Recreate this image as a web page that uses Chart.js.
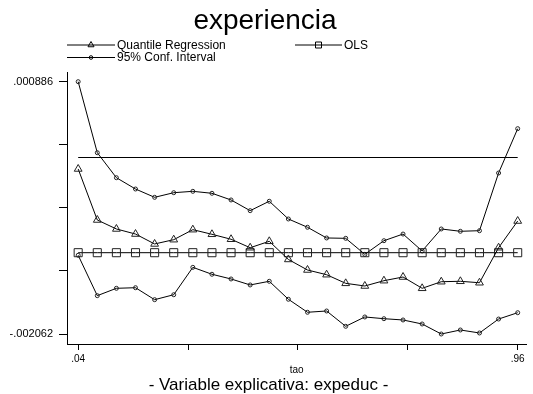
<!DOCTYPE html>
<html>
<head>
<meta charset="utf-8">
<script src="https://cdn.jsdelivr.net/npm/chart.js@4/dist/chart.umd.min.js"></script>
<style>
  html, body { margin: 0; padding: 0; background: #fff; }
  #wrap { width: 533px; height: 394px; position: relative; }
</style>
</head>
<body>
<div id="wrap"><canvas id="c" width="533" height="394"></canvas></div>
<script>
var TAO = [0.04, 0.08, 0.12, 0.16, 0.20, 0.24, 0.28, 0.32, 0.36, 0.40, 0.44, 0.48,
           0.52, 0.56, 0.60, 0.64, 0.68, 0.72, 0.76, 0.80, 0.84, 0.88, 0.92, 0.96];

// coeficientes x 1e-6
var QR = [-134, -730, -835, -894, -1010, -960, -843, -897, -955, -1054, -979, -1191,
          -1314, -1369, -1470, -1501, -1439, -1396, -1528, -1451, -1446, -1463, -1054, -742];
var CI_UPPER = [886, 56, -236, -368, -465, -411, -395, -418, -496, -621, -511, -718,
                -815, -940, -944, -1131, -972, -894, -1092, -835, -862, -855, -181, 337];
var CI_LOWER = [-1142, -1614, -1528, -1521, -1661, -1603, -1283, -1364, -1419, -1489, -1446, -1656,
                -1808, -1793, -1972, -1863, -1883, -1898, -1945, -2062, -2015, -2050, -1887, -1813];
var OLS = [-1112, -1112, -1112, -1112, -1112, -1112, -1112, -1112, -1112, -1112, -1112, -1112,
           -1112, -1112, -1112, -1112, -1112, -1112, -1112, -1112, -1112, -1112, -1112, -1112];
var ZERO_X = [0.04, 0.96];
var ZERO_Y = [0, 0];

var X_TICKS = [0.04, 0.27, 0.50, 0.73, 0.96];
var Y_TICKS = [0.000886, 0.000149, -0.000588, -0.001325, -0.002062];
var X_LABELS = { '0.04': '.04', '0.96': '.96' };
var Y_LABELS = { '0.000886': '.000886', '-0.002062': '-.002062' };

var FONT = "'Liberation Sans', Arial, sans-serif";
var INK = '#000';

function pts(xs, ys) {
  return xs.map(function (x, i) { return { x: x, y: ys[i] * 1e-6 }; });
}

function serie(label, data, style, radius) {
  return {
    label: label,
    data: data,
    borderColor: INK,
    borderWidth: 1,
    pointStyle: style,
    pointRadius: radius,
    pointBorderColor: '#222',
    pointBackgroundColor: 'rgba(0,0,0,0)',
    pointBorderWidth: 1,
    tension: 0,
  };
}

// marcadores de la leyenda, algo mas chicos que los del grafico
function marker(ctx, style, x, y) {
  ctx.beginPath();
  if (style === 'triangle') {
    var r = 3.5;
    ctx.moveTo(x, y - r);
    ctx.lineTo(x + r * 0.866, y + r * 0.5);
    ctx.lineTo(x - r * 0.866, y + r * 0.5);
    ctx.closePath();
  } else if (style === 'rect') {
    ctx.rect(x - 3, y - 3, 6, 6);
  } else {
    ctx.arc(x, y, 1.8, 0, Math.PI * 2);
  }
  ctx.stroke();
}

var textos = {
  id: 'textos',
  afterDraw: function (chart) {
    var ctx = chart.ctx;
    ctx.save();
    ctx.fillStyle = INK;
    ctx.strokeStyle = INK;
    ctx.lineWidth = 1;

    ctx.textAlign = 'center';
    ctx.textBaseline = 'alphabetic';
    ctx.font = '28px ' + FONT;
    ctx.fillText('experiencia', 265, 29);

    var leyenda = [
      { x0: 67, x1: 115, y: 45, style: 'triangle', text: 'Quantile Regression' },
      { x0: 295, x1: 342, y: 45, style: 'rect', text: 'OLS' },
      { x0: 67, x1: 115, y: 57.5, style: 'circle', text: '95% Conf. Interval' },
    ];
    ctx.font = '12px ' + FONT;
    ctx.textAlign = 'left';
    ctx.textBaseline = 'middle';
    leyenda.forEach(function (l) {
      ctx.beginPath();
      ctx.moveTo(l.x0, l.y);
      ctx.lineTo(l.x1, l.y);
      ctx.stroke();
      marker(ctx, l.style, (l.x0 + l.x1) / 2, l.y);
      ctx.fillText(l.text, l.x1 + 2, l.y + 0.5);
    });

    ctx.textAlign = 'center';
    ctx.textBaseline = 'alphabetic';
    ctx.font = '10px ' + FONT;
    ctx.fillText('tao', (chart.chartArea.left + chart.chartArea.right) / 2, 373);
    ctx.font = '17px ' + FONT;
    ctx.fillText('- Variable explicativa: expeduc -', 268.5, 390);
    ctx.restore();
  },
};

new Chart(document.getElementById('c').getContext('2d'), {
  type: 'line',
  data: {
    datasets: [
      serie('Quantile Regression', pts(TAO, QR), 'triangle', 4.5),
      serie('OLS', pts(TAO, OLS), 'rect', 5.7),
      serie('95% Conf. Interval', pts(TAO, CI_UPPER), 'circle', 2),
      serie('95% Conf. Interval', pts(TAO, CI_LOWER), 'circle', 2),
      serie('', pts(ZERO_X, ZERO_Y), 'circle', 0),
    ],
  },
  options: {
    responsive: false,
    animation: false,
    layout: { padding: { top: 72, left: 0, right: 1, bottom: 0 } },
    plugins: { legend: { display: false }, title: { display: false }, tooltip: { enabled: false } },
    scales: {
      x: {
        type: 'linear',
        min: 0.0166,
        max: 0.978,
        afterFit: function (s) { s.height = 50; },
        afterBuildTicks: function (s) { s.ticks = X_TICKS.map(function (v) { return { value: v }; }); },
        border: { color: INK, width: 1 },
        grid: { drawOnChartArea: false, drawTicks: true, tickLength: 6, color: INK },
        ticks: {
          color: INK,
          padding: 3,
          maxRotation: 0,
          font: { family: FONT, size: 10 },
          callback: function (v) { return X_LABELS[String(+v.toFixed(2))] || ''; },
        },
      },
      y: {
        type: 'linear',
        min: -0.0021787,
        max: 0.000999,
        afterFit: function (s) { s.width = 67; },
        afterBuildTicks: function (s) { s.ticks = Y_TICKS.map(function (v) { return { value: v }; }); },
        border: { color: INK, width: 1 },
        grid: { drawOnChartArea: false, drawTicks: true, tickLength: 8, color: INK },
        ticks: {
          color: INK,
          padding: 6,
          font: { family: FONT, size: 11 },
          callback: function (v) { return Y_LABELS[String(+v.toFixed(6))] || ''; },
        },
      },
    },
  },
  plugins: [textos],
});
</script>
</body>
</html>
